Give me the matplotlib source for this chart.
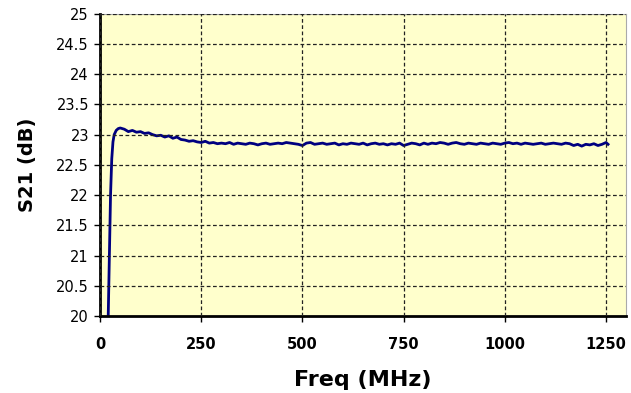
import matplotlib.pyplot as plt
import numpy as np

freq_mhz = [20, 23, 26, 29, 32, 35, 40, 45, 50, 55, 60, 65, 70, 75,
            80, 90, 100, 110, 120, 130, 140, 150, 160, 170, 180, 190,
            200, 210, 220, 230, 240, 250, 260, 270, 280, 290, 300,
            310, 320, 330, 340, 350, 360, 370, 380, 390, 400,
            410, 420, 430, 440, 450, 460, 470, 480, 490, 500,
            510, 520, 530, 540, 550, 560, 570, 580, 590, 600,
            610, 620, 630, 640, 650, 660, 670, 680, 690, 700,
            710, 720, 730, 740, 750, 760, 770, 780, 790, 800,
            810, 820, 830, 840, 850, 860, 870, 880, 890, 900,
            910, 920, 930, 940, 950, 960, 970, 980, 990, 1000,
            1010, 1020, 1030, 1040, 1050, 1060, 1070, 1080, 1090, 1100,
            1110, 1120, 1130, 1140, 1150, 1160, 1170, 1180, 1190, 1200,
            1210, 1220, 1230, 1240, 1250, 1255]
s21_db = [19.9, 21.0, 22.0, 22.6, 22.88, 23.0, 23.07, 23.1, 23.11, 23.1, 23.09, 23.07, 23.05, 23.06,
          23.07, 23.04, 23.05, 23.02, 23.03, 23.0, 22.98, 22.99, 22.96, 22.98, 22.94, 22.96,
          22.92, 22.91, 22.89, 22.9, 22.88, 22.87, 22.89, 22.86, 22.87, 22.85, 22.86,
          22.85, 22.87, 22.84, 22.86, 22.85, 22.84, 22.86, 22.85, 22.83, 22.85,
          22.86, 22.84, 22.85, 22.86, 22.85, 22.87, 22.86, 22.85, 22.84, 22.82,
          22.86, 22.87, 22.84, 22.85, 22.86, 22.84, 22.85, 22.86, 22.83, 22.85,
          22.84, 22.86, 22.85, 22.84, 22.86, 22.83, 22.85, 22.86, 22.84, 22.85,
          22.83, 22.85, 22.84, 22.86, 22.82, 22.84, 22.86, 22.85, 22.83, 22.86,
          22.84, 22.86, 22.85, 22.87, 22.86, 22.84, 22.86, 22.87, 22.85, 22.84,
          22.86, 22.85, 22.84, 22.86, 22.85, 22.84, 22.86, 22.85, 22.84, 22.86,
          22.87, 22.85, 22.86, 22.84, 22.86, 22.85, 22.84, 22.85, 22.86, 22.84,
          22.85, 22.86, 22.85, 22.84, 22.86, 22.85, 22.82, 22.84, 22.81, 22.84,
          22.83, 22.85, 22.82, 22.84, 22.87, 22.84]

x_ticks = [0, 250, 500, 750, 1000, 1250]
y_ticks = [20, 20.5, 21, 21.5, 22, 22.5, 23, 23.5, 24, 24.5, 25]

fig = plt.figure(figsize=(6.31, 3.93), dpi=100)
ax = fig.add_axes([0.1585, 0.196, 0.834, 0.769])
ax.set_facecolor('#ffffcc')

ax.plot(freq_mhz, s21_db, color='#000080', lw=2, solid_joinstyle='round')

ax.set_xlim(0, 1300)
ax.set_ylim(20, 25)
ax.set_xticks(x_ticks)
ax.set_yticks(y_ticks)
ax.set_yticklabels([f'{v:g}' for v in y_ticks])
ax.set_xticklabels([str(v) for v in x_ticks], fontweight='bold')
ax.tick_params(axis='both', labelsize=10.5, colors='black', length=4, width=1)
ax.tick_params(axis='x', pad=11)
ax.tick_params(axis='y', pad=4)

ax.grid(True, color='#222222', ls=(0, (3, 2)), lw=0.9)
ax.set_axisbelow(False)

for side in ['top', 'right']:
    ax.spines[side].set_color('#aaaaaa')
    ax.spines[side].set_linewidth(0.8)
for side in ['left', 'bottom']:
    ax.spines[side].set_linewidth(2)

ax.set_xlabel('Freq (MHz)', fontsize=16, fontweight='bold', labelpad=13)
ax.set_ylabel('S21 (dB)', fontsize=14, fontweight='bold', labelpad=14)

fig.savefig('out.png', dpi=100)
